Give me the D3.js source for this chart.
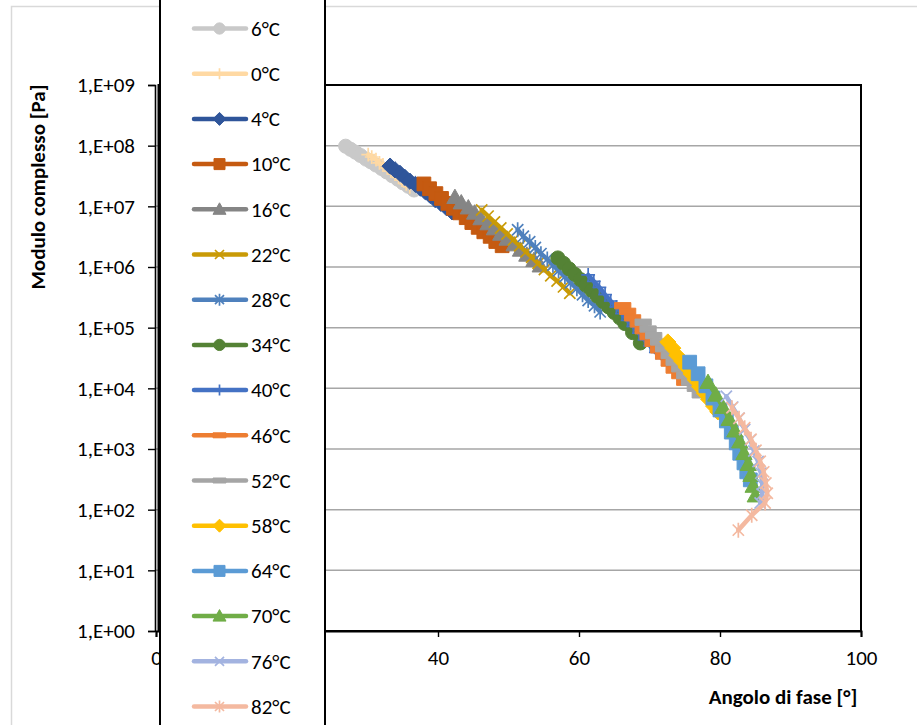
<!DOCTYPE html>
<html>
<head>
<meta charset="utf-8">
<script src="https://cdn.jsdelivr.net/npm/d3@7/dist/d3.min.js"></script>
<style>
  html, body { margin: 0; padding: 0; background: #ffffff; }
  svg { display: block; }
  text { font-family: Carlito, Lato, "Open Sans", sans-serif; fill: #000; }
</style>
</head>
<body>
<svg id="chart" width="917" height="725"></svg>
<script>
// Temperature labels, in legend order
const tempLabels = ["6°C", "0°C", "4°C", "10°C", "16°C", "22°C", "28°C", "34°C",
  "40°C", "46°C", "52°C", "58°C", "64°C", "70°C", "76°C", "82°C"];
const tempColors = ["#c9c9c9", "#ffd9a3", "#2f559a", "#c55a11", "#858585", "#c99a06",
  "#4f81bd", "#548235", "#4472c4", "#ed7d31", "#a5a5a5", "#ffc000", "#5b9bd5",
  "#70ad47", "#a3b3e0", "#f4b9a0"];
const tempMarkers = ["circle", "plus", "diamond", "square", "triangle", "x", "star", "circle",
  "plus", "dash", "dash", "diamond", "square", "triangle", "x", "star"];

// Axis ticks (the 20° label sits under the legend box, so only its tick is drawn)
const phaseTicks = [0, 20, 40, 60, 80, 100];
const phaseLabelled = [0, 40, 60, 80, 100];
const modulusTicks = [1e0, 1e1, 1e2, 1e3, 1e4, 1e5, 1e6, 1e7, 1e8, 1e9];

// Phase angle [°] and complex modulus [Pa] for each test temperature
const phase_t6 = [26.9, 27.6, 28.3, 29.0, 29.8, 30.5, 31.2, 32.0, 32.7, 33.5, 34.3, 35.0, 35.8, 36.6];
const modulus_t6 = [9.8e7, 8.7e7, 7.8e7, 6.9e7, 6.0e7, 5.4e7, 4.8e7, 4.2e7, 3.7e7, 3.2e7, 2.8e7, 2.45e7, 2.14e7, 1.86e7];

const phase_t0 = [30.1, 30.6, 31.2, 31.7, 32.2, 32.8, 33.3, 33.9, 34.4, 34.9, 35.5, 36.0];
const modulus_t0 = [7.1e7, 6.5e7, 5.9e7, 5.2e7, 4.8e7, 4.3e7, 3.8e7, 3.4e7, 3.0e7, 2.7e7, 2.34e7, 2.09e7];

const phase_t4 = [33.2, 33.9, 34.6, 35.3, 36.0, 36.8, 37.5, 38.2, 38.9, 39.6, 40.4, 41.2, 42.0];
const modulus_t4 = [4.6e7, 4.0e7, 3.5e7, 3.0e7, 2.6e7, 2.3e7, 2.0e7, 1.74e7, 1.51e7, 1.29e7, 1.12e7, 9.5e6, 8.1e6];

const phase_t10 = [38.0, 38.8, 39.7, 40.5, 41.4, 42.2, 43.1, 44.0, 44.8, 45.7, 46.5, 47.4, 48.2, 49.1];
const modulus_t10 = [2.34e7, 1.95e7, 1.62e7, 1.35e7, 1.12e7, 9.3e6, 7.8e6, 6.5e6, 5.4e6, 4.5e6, 3.8e6, 3.2e6, 2.63e6, 2.24e6];

const phase_t16 = [42.4, 43.3, 44.3, 45.2, 46.1, 47.1, 48.0, 48.9, 49.8, 50.8, 51.7, 52.6, 53.6, 54.5];
const modulus_t16 = [1.41e7, 1.15e7, 9.5e6, 7.8e6, 6.3e6, 5.2e6, 4.3e6, 3.5e6, 2.9e6, 2.34e6, 1.91e6, 1.58e6, 1.29e6, 1.05e6];

const phase_t22 = [46.2, 47.1, 48.0, 48.9, 49.8, 50.7, 51.6, 52.5, 53.3, 54.2, 55.1, 56.0, 56.9, 57.8, 58.7];
const modulus_t22 = [8.7e6, 6.9e6, 5.5e6, 4.4e6, 3.5e6, 2.8e6, 2.24e6, 1.78e6, 1.45e6, 1.15e6, 9.1e5, 7.2e5, 5.9e5, 4.7e5, 3.7e5];

const phase_t28 = [51.3, 52.1, 53.0, 53.8, 54.6, 55.5, 56.3, 57.1, 58.0, 58.8, 59.7, 60.5, 61.3, 62.2, 63.0];
const modulus_t28 = [4.1e6, 3.2e6, 2.6e6, 2.1e6, 1.66e6, 1.35e6, 1.07e6, 8.7e5, 6.9e5, 5.5e5, 4.4e5, 3.5e5, 2.8e5, 2.3e5, 1.82e5];

const phase_t34 = [57.0, 57.8, 58.6, 59.4, 60.2, 61.0, 61.8, 62.6, 63.4, 64.2, 65.0, 65.8, 66.5, 67.6, 68.7];
const modulus_t34 = [1.41e6, 1.15e6, 9.3e5, 7.6e5, 6.2e5, 5.0e5, 4.1e5, 3.3e5, 2.7e5, 2.2e5, 1.78e5, 1.45e5, 1.17e5, 8.3e4, 5.6e4];

const phase_t40 = [61.3, 62.1, 62.9, 63.7, 64.5, 65.3, 66.1, 66.9, 67.7, 68.5, 69.3, 70.1, 70.9, 71.8, 72.6];
const modulus_t40 = [7.4e5, 5.8e5, 4.6e5, 3.5e5, 2.75e5, 2.2e5, 1.7e5, 1.32e5, 1.05e5, 8.1e4, 6.3e4, 5.0e4, 3.9e4, 3.1e4, 2.4e4];

const phase_t46 = [66.2, 66.9, 67.6, 68.4, 69.1, 69.8, 70.5, 71.3, 72.0, 72.8, 73.5, 74.3, 75.0];
const modulus_t46 = [2.3e5, 1.86e5, 1.45e5, 1.15e5, 8.9e4, 7.1e4, 5.5e4, 4.3e4, 3.4e4, 2.6e4, 2.0e4, 1.62e4, 1.26e4];

const phase_t52 = [69.1, 69.8, 70.6, 71.3, 72.0, 72.8, 73.5, 74.3, 75.0, 75.7, 76.5, 77.2];
const modulus_t52 = [1.23e5, 9.5e4, 7.4e4, 5.8e4, 4.5e4, 3.5e4, 2.7e4, 2.1e4, 1.62e4, 1.26e4, 1.0e4, 7.8e3];

const phase_t58 = [72.6, 73.3, 73.9, 74.6, 75.2, 75.9, 76.5, 77.1, 77.8, 78.4, 79.1, 79.7];
const modulus_t58 = [5.8e4, 4.6e4, 3.5e4, 2.8e4, 2.24e4, 1.74e4, 1.38e4, 1.07e4, 8.3e3, 6.6e3, 5.1e3, 4.1e3];

const phase_t64 = [75.7, 76.9, 78.0, 79.0, 80.0, 80.9, 81.6, 82.3, 82.8, 83.4, 83.8, 84.3];
const modulus_t64 = [2.7e4, 1.74e4, 1.10e4, 6.9e3, 4.4e3, 2.9e3, 1.9e3, 1.26e3, 8.5e2, 5.9e2, 4.2e2, 3.1e2];

const phase_t70 = [78.3, 79.4, 80.4, 81.3, 82.1, 82.8, 83.4, 84.0, 84.4, 84.7, 85.0];
const modulus_t70 = [1.26e4, 7.8e3, 4.9e3, 3.1e3, 2.0e3, 1.32e3, 8.5e2, 5.6e2, 3.7e2, 2.45e2, 1.7e2];

const phase_t76 = [80.9, 81.8, 82.7, 83.5, 84.3, 84.8, 85.4, 85.8, 86.0, 86.0, 85.7];
const modulus_t76 = [7.4e3, 4.9e3, 3.2e3, 2.1e3, 1.41e3, 9.3e2, 6.2e2, 4.0e2, 2.6e2, 1.82e2, 1.29e2];

const phase_t82 = [81.7, 82.7, 83.5, 84.4, 85.1, 85.7, 86.2, 86.5, 86.7, 86.4, 84.5, 82.6];
const modulus_t82 = [4.8e3, 3.2e3, 2.24e3, 1.45e3, 9.5e2, 6.3e2, 4.2e2, 2.75e2, 1.86e2, 1.29e2, 81, 46];

const phaseSets = [phase_t6, phase_t0, phase_t4, phase_t10, phase_t16, phase_t22, phase_t28, phase_t34,
  phase_t40, phase_t46, phase_t52, phase_t58, phase_t64, phase_t70, phase_t76, phase_t82];
const modulusSets = [modulus_t6, modulus_t0, modulus_t4, modulus_t10, modulus_t16, modulus_t22, modulus_t28, modulus_t34,
  modulus_t40, modulus_t46, modulus_t52, modulus_t58, modulus_t64, modulus_t70, modulus_t76, modulus_t82];

const series = tempLabels.map((label, i) => ({
  label,
  color: tempColors[i],
  marker: tempMarkers[i],
  points: phaseSets[i].map((p, j) => ({ phase: p, modulus: modulusSets[i][j] }))
}));

// Layout
const FONT = 21;
const svg = d3.select("#chart");
const plot = { left: 156, right: 861, top: 85, bottom: 631 };

const x = d3.scaleLinear().domain([0, 100]).range([plot.left, plot.right]);
const y = d3.scaleLog().domain([1, 1e9]).range([plot.bottom, plot.top]);

// Outer chart frame
svg.append("rect")
  .attr("x", 11.5).attr("y", 6.5).attr("width", 1000).attr("height", 900)
  .attr("fill", "#ffffff").attr("stroke", "#d9d9d9").attr("stroke-width", 1.5);

// Horizontal gridlines
svg.append("g").selectAll("line")
  .data(modulusTicks.slice(1, -1))
  .join("line")
  .attr("x1", plot.left).attr("x2", plot.right)
  .attr("y1", d => y(d)).attr("y2", d => y(d))
  .attr("stroke", "#a6a6a6").attr("stroke-width", 1.5);

// Plot-area border
svg.append("rect")
  .attr("x", plot.left + 2.5).attr("y", plot.top)
  .attr("width", plot.right - plot.left - 2.5).attr("height", plot.bottom - plot.top)
  .attr("fill", "none").attr("stroke", "#000").attr("stroke-width", 2);

// Y axis
const expLabel = d => "1,E+" + String(Math.round(Math.log10(d))).padStart(2, "0");
const yAxis = svg.append("g")
  .attr("transform", `translate(${plot.left - 1},0)`)
  .call(d3.axisLeft(y).tickValues(modulusTicks).tickFormat(expLabel).tickSize(7).tickPadding(13));
yAxis.select(".domain").attr("stroke", "#000").attr("stroke-width", 1.6);
yAxis.selectAll(".tick line").attr("stroke", "#000").attr("stroke-width", 1.4);

// X axis
const xAxis = svg.append("g")
  .attr("transform", `translate(0,${plot.bottom})`)
  .call(d3.axisBottom(x).tickValues(phaseTicks)
    .tickFormat(d => phaseLabelled.includes(d) ? d3.format("d")(d) : "")
    .tickSize(6).tickPadding(13));
xAxis.select(".domain").attr("stroke", "#000").attr("stroke-width", 2);
xAxis.selectAll(".tick line").attr("stroke", "#000").attr("stroke-width", 1.4);
xAxis.selectAll(".tick text").filter(d => !phaseLabelled.includes(d)).remove();

svg.selectAll(".tick text")
  .attr("font-size", FONT).attr("fill", "#000")
  .style("font-family", "Carlito, Lato, 'Open Sans', sans-serif");

// Axis titles
svg.append("text")
  .attr("transform", "translate(45,187) rotate(-90)")
  .attr("text-anchor", "middle")
  .attr("font-size", FONT).attr("font-weight", "bold")
  .text("Modulo complesso [Pa]");
svg.append("text")
  .attr("x", 783).attr("y", 704)
  .attr("text-anchor", "middle")
  .attr("font-size", FONT).attr("font-weight", "bold")
  .text("Angolo di fase [°]");

// Marker shapes
const strokeMarkers = new Set(["plus", "x", "star"]);
function markerPath(type, k) {
  const s = v => (v * k).toFixed(2);
  switch (type) {
    case "circle": return d3.symbol(d3.symbolCircle, 100 * k * k)();
    case "square": return `M${s(-5.5)},${s(-5.5)}h${s(11)}v${s(11)}h${s(-11)}z`;
    case "diamond": return `M0,${s(-6.5)}L${s(6.5)},0L0,${s(6.5)}L${s(-6.5)},0Z`;
    case "triangle": return `M0,${s(-6.5)}L${s(6.5)},${s(5)}H${s(-6.5)}Z`;
    case "dash": return `M${s(-6.5)},${s(-2.5)}h${s(13)}v${s(5)}h${s(-13)}z`;
    case "plus": return `M0,${s(-5.5)}V${s(5.5)}M${s(-5.5)},0H${s(5.5)}`;
    case "x": return `M${s(-4.5)},${s(-4.5)}L${s(4.5)},${s(4.5)}M${s(-4.5)},${s(4.5)}L${s(4.5)},${s(-4.5)}`;
    case "star": return `M${s(-4.5)},${s(-4.5)}L${s(4.5)},${s(4.5)}M${s(-4.5)},${s(4.5)}L${s(4.5)},${s(-4.5)}M0,${s(-6)}V${s(6)}`;
  }
}
function drawMarker(sel, s, k) {
  sel.attr("d", markerPath(s.marker, k))
    .attr("fill", strokeMarkers.has(s.marker) ? "none" : s.color)
    .attr("stroke", s.color)
    .attr("stroke-width", strokeMarkers.has(s.marker) ? 1.7 : 1);
}

// Series: connecting line and markers
const line = d3.line().x(d => x(d.phase)).y(d => y(d.modulus));
const seriesG = svg.append("g");
series.forEach(s => {
  const g = seriesG.append("g");
  g.append("path")
    .datum(s.points)
    .attr("d", line)
    .attr("fill", "none")
    .attr("stroke", s.color)
    .attr("stroke-width", 4.5)
    .attr("stroke-linecap", "round")
    .attr("stroke-linejoin", "round");
  g.selectAll("path.m")
    .data(s.points)
    .join("path")
    .attr("class", "m")
    .attr("transform", d => `translate(${x(d.phase)},${y(d.modulus)})`)
    .call(drawMarker, s, 1.25);
});

// Legend box
const legend = svg.append("g");
legend.append("rect")
  .attr("x", 160).attr("y", -5).attr("width", 165).attr("height", 760)
  .attr("fill", "#ffffff").attr("stroke", "#000").attr("stroke-width", 2);
const legendStep = 45.2;
const legendItems = legend.selectAll("g.item")
  .data(series)
  .join("g")
  .attr("class", "item")
  .attr("transform", (d, i) => `translate(0,${28.5 + i * legendStep})`);
legendItems.append("line")
  .attr("x1", 194).attr("x2", 246)
  .attr("stroke", d => d.color).attr("stroke-width", 4.5).attr("stroke-linecap", "round");
legendItems.append("path")
  .attr("transform", "translate(219.5,0)")
  .each(function (d) { d3.select(this).call(drawMarker, d, 1); });
legendItems.append("text")
  .attr("x", 251).attr("y", 0).attr("dy", "0.35em")
  .attr("font-size", FONT)
  .text(d => d.label);
</script>
</body>
</html>
